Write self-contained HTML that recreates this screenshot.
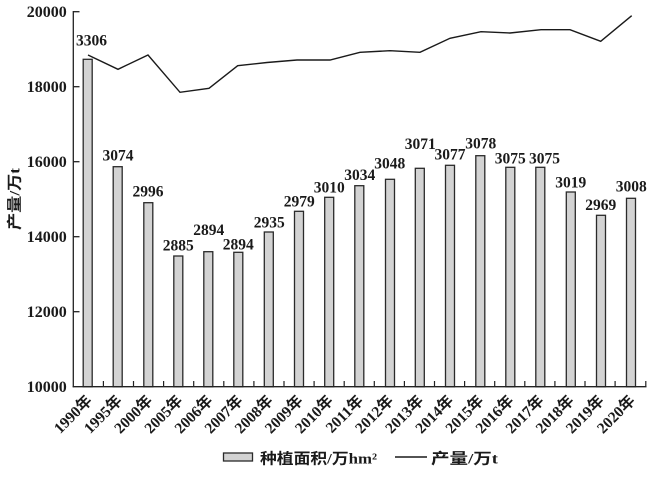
<!DOCTYPE html>
<html>
<head>
<meta charset="utf-8">
<style>
html,body{margin:0;padding:0;background:#fff;}
svg{display:block;}
.num{font-family:"Liberation Serif","Noto Sans CJK SC",serif;font-weight:bold;font-size:15.5px;fill:#1a1a1a;}
.tick{font-family:"Liberation Serif","Noto Sans CJK SC",serif;font-weight:bold;font-size:16px;fill:#1a1a1a;}
.xl{font-family:"Liberation Serif","Noto Sans CJK SC",serif;font-weight:bold;font-size:15.5px;fill:#1a1a1a;}
.lg{font-family:"Liberation Serif","Noto Sans CJK SC",serif;font-weight:bold;font-size:15px;fill:#1a1a1a;}
</style>
</head>
<body>
<svg width="663" height="477" viewBox="0 0 663 477" xmlns="http://www.w3.org/2000/svg">
<rect width="663" height="477" fill="#fff"/>

<!-- bars -->
<g fill="#d3d3d3" stroke="#2a2a2a" stroke-width="1.3">
<rect x="83.2" y="59.3" width="9" height="327.4"/>
<rect x="113.2" y="166.7" width="9" height="220"/>
<rect x="143.8" y="202.7" width="9" height="184"/>
<rect x="173.8" y="256" width="9" height="130.7"/>
<rect x="203.8" y="251.7" width="9" height="135"/>
<rect x="233.8" y="252.3" width="9" height="134.4"/>
<rect x="264.3" y="232" width="9" height="154.7"/>
<rect x="294.5" y="211.3" width="9" height="175.4"/>
<rect x="324.7" y="197.3" width="9" height="189.4"/>
<rect x="354.8" y="185.7" width="9" height="201"/>
<rect x="385.5" y="179.3" width="9" height="207.4"/>
<rect x="415.3" y="168.3" width="9" height="218.4"/>
<rect x="445.5" y="165.3" width="9" height="221.4"/>
<rect x="475.8" y="155.7" width="9" height="231"/>
<rect x="505.8" y="167.3" width="9" height="219.4"/>
<rect x="535.8" y="167.3" width="9" height="219.4"/>
<rect x="566.3" y="192" width="9" height="194.7"/>
<rect x="596.5" y="215.3" width="9" height="171.4"/>
<rect x="626.5" y="198.3" width="9" height="188.4"/>
</g>

<!-- axes -->
<g stroke="#222" stroke-width="1.3" fill="none">
<line x1="73.3" y1="11" x2="73.3" y2="387.3"/>
<line x1="72.7" y1="386.7" x2="646.5" y2="386.7"/>
<line x1="73.3" y1="11.7" x2="79.5" y2="11.7"/>
<line x1="73.3" y1="86.7" x2="79.5" y2="86.7"/>
<line x1="73.3" y1="161.7" x2="79.5" y2="161.7"/>
<line x1="73.3" y1="236.7" x2="79.5" y2="236.7"/>
<line x1="73.3" y1="311.7" x2="79.5" y2="311.7"/>
</g>
<g stroke="#222" stroke-width="1.2">
<line x1="103.4" y1="387" x2="103.4" y2="381"/>
<line x1="133.5" y1="387" x2="133.5" y2="381"/>
<line x1="163.6" y1="387" x2="163.6" y2="381"/>
<line x1="193.7" y1="387" x2="193.7" y2="381"/>
<line x1="223.8" y1="387" x2="223.8" y2="381"/>
<line x1="253.9" y1="387" x2="253.9" y2="381"/>
<line x1="284.0" y1="387" x2="284.0" y2="381"/>
<line x1="314.1" y1="387" x2="314.1" y2="381"/>
<line x1="344.2" y1="387" x2="344.2" y2="381"/>
<line x1="374.3" y1="387" x2="374.3" y2="381"/>
<line x1="404.4" y1="387" x2="404.4" y2="381"/>
<line x1="434.5" y1="387" x2="434.5" y2="381"/>
<line x1="464.6" y1="387" x2="464.6" y2="381"/>
<line x1="494.7" y1="387" x2="494.7" y2="381"/>
<line x1="524.8" y1="387" x2="524.8" y2="381"/>
<line x1="554.9" y1="387" x2="554.9" y2="381"/>
<line x1="585.0" y1="387" x2="585.0" y2="381"/>
<line x1="615.1" y1="387" x2="615.1" y2="381"/>
<line x1="645.8" y1="387" x2="645.8" y2="381"/>
</g>

<!-- y tick labels -->
<g class="tick" text-anchor="end">
<text x="66.7" y="17.2">20000</text>
<text x="66.7" y="92.2">18000</text>
<text x="66.7" y="167.2">16000</text>
<text x="66.7" y="242.2">14000</text>
<text x="66.7" y="317.2">12000</text>
<text x="66.7" y="392.2">10000</text>
</g>

<!-- y axis title -->
<text class="lg" transform="translate(19.5,199) rotate(-90)" text-anchor="middle" textLength="62" lengthAdjust="spacingAndGlyphs">产量/万t</text>

<!-- line -->
<polyline fill="none" stroke="#1a1a1a" stroke-width="1.4" stroke-linejoin="miter"
points="88,55 118,69.3 148,55 180,92.3 209,88.3 237.7,65.7 267,62.5 297,60 330,60 360,52.3 390,50.7 420,52.3 450,38.3 481,31.7 510,33 541,29.7 570,29.7 600.7,41.3 631.7,15.7"/>

<!-- data labels -->
<g class="num" text-anchor="middle">
<text x="91.5" y="45.7">3306</text>
<text x="118" y="160.7">3074</text>
<text x="148" y="196.7">2996</text>
<text x="178.3" y="250.7">2885</text>
<text x="208.7" y="235">2894</text>
<text x="238.3" y="249.3">2894</text>
<text x="269.2" y="227.3">2935</text>
<text x="299.2" y="206.7">2979</text>
<text x="329.2" y="192.7">3010</text>
<text x="359.7" y="180">3034</text>
<text x="389.7" y="168.3">3048</text>
<text x="420.3" y="149">3071</text>
<text x="450" y="159.3">3077</text>
<text x="480.7" y="148.3">3078</text>
<text x="510.2" y="163.3">3075</text>
<text x="544.5" y="163.3">3075</text>
<text x="570.8" y="187.3">3019</text>
<text x="600.8" y="210">2969</text>
<text x="631.2" y="191.7">3008</text>
</g>

<!-- x labels -->
<g class="xl" text-anchor="end">
<text transform="translate(93,401.5) rotate(-45)">1990年</text>
<text transform="translate(123,401.5) rotate(-45)">1995年</text>
<text transform="translate(153.3,401.5) rotate(-45)">2000年</text>
<text transform="translate(183.5,401.5) rotate(-45)">2005年</text>
<text transform="translate(213.6,401.5) rotate(-45)">2006年</text>
<text transform="translate(243.7,401.5) rotate(-45)">2007年</text>
<text transform="translate(273.8,401.5) rotate(-45)">2008年</text>
<text transform="translate(303.9,401.5) rotate(-45)">2009年</text>
<text transform="translate(334,401.5) rotate(-45)">2010年</text>
<text transform="translate(364.1,401.5) rotate(-45)">2011年</text>
<text transform="translate(394.2,401.5) rotate(-45)">2012年</text>
<text transform="translate(424.3,401.5) rotate(-45)">2013年</text>
<text transform="translate(454.4,401.5) rotate(-45)">2014年</text>
<text transform="translate(484.5,401.5) rotate(-45)">2015年</text>
<text transform="translate(514.6,401.5) rotate(-45)">2016年</text>
<text transform="translate(544.7,401.5) rotate(-45)">2017年</text>
<text transform="translate(574.8,401.5) rotate(-45)">2018年</text>
<text transform="translate(604.9,401.5) rotate(-45)">2019年</text>
<text transform="translate(636,401.5) rotate(-45)">2020年</text>
</g>

<!-- legend -->
<rect x="223.5" y="453" width="29" height="8" fill="#d3d3d3" stroke="#2a2a2a" stroke-width="1.3"/>
<text class="lg" x="260" y="463.5" textLength="117" lengthAdjust="spacingAndGlyphs">种植面积/万hm²</text>
<line x1="395" y1="457" x2="427" y2="457" stroke="#1a1a1a" stroke-width="1.4"/>
<text class="lg" x="431" y="463.5" textLength="67" lengthAdjust="spacingAndGlyphs">产量/万t</text>
</svg>
</body>
</html>
